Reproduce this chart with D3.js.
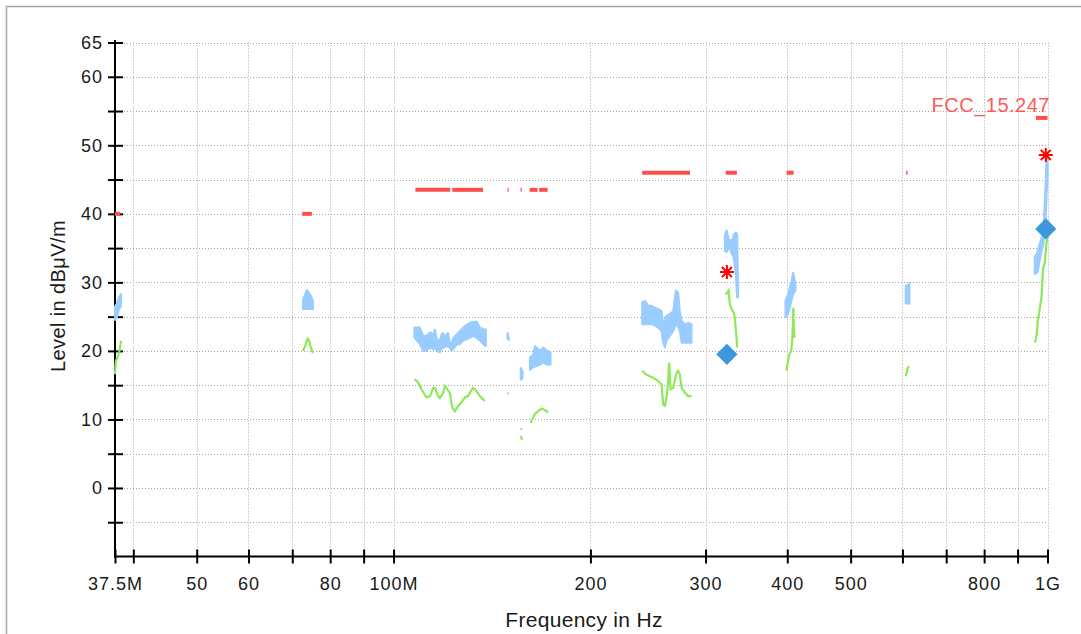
<!DOCTYPE html>
<html>
<head>
<meta charset="utf-8">
<script src="https://cdn.jsdelivr.net/npm/d3@7"></script>
<style>
    body { margin: 0; background: #fff; }
    svg text { font-family: "Liberation Sans", Arial, sans-serif; }
</style>
</head>
<body>
<div id="chart"></div>
<script>
var levelTicks = [-5, 0, 5, 10, 15, 20, 25, 30, 35, 40, 45, 50, 55, 60, 65];
var levelLabels = [0, 10, 20, 30, 40, 50, 60, 65];
var freqTicks = [40, 50, 60, 70, 80, 90, 100, 200, 300, 400, 500, 600, 700, 800, 900, 1000];
var freqLabelValues = [37.5, 50, 60, 80, 100, 200, 300, 400, 500, 800, 1000];
var freqLabelTexts = ["37.5M", "50", "60", "80", "100M", "200", "300", "400", "500", "800", "1G"];

// limit line, only drawn in the restricted bands: [from MHz, to MHz, dBuV/m]
var limitBands = [
    [37.5, 38.2, 40], [72.5, 75, 40],
    [108, 122, 43.5], [123, 137, 43.5], [149.4, 150, 43.5], [156.4, 157, 43.5], [161.5, 166, 43.5], [167, 172, 43.5],
    [240, 284, 46], [322, 335, 46], [399, 409, 46], [608, 611, 46],
    [960, 1000, 54]
];

// peak trace, [MHz, low, high]
var peak1 = [[37.5, 24.5, 26.5], [37.8, 25.0, 27.0], [38.0, 26.0, 27.8], [38.3, 26.5, 28.3]];
var peak2 = [[72.7, 26.1, 27.5], [73.7, 26.1, 28.9], [74.8, 26.1, 28.0], [75.3, 26.1, 27.2]];
var peak3 = [[107.6, 22.0, 23.4], [108.5, 21.5, 23.4], [109.7, 21.0, 23.4], [111.0, 20.0, 22.2], [112.3, 20.0, 22.2],
    [113.7, 20.5, 22.7], [115.0, 20.2, 22.4], [115.7, 20.5, 23.1], [116.4, 20.0, 21.7], [117.7, 19.8, 21.5],
    [118.4, 20.3, 22.4], [119.1, 20.5, 22.6], [119.8, 20.6, 21.9], [120.5, 20.7, 22.4], [121.2, 20.6, 22.6],
    [121.9, 20.5, 21.2], [122.7, 20.0, 21.0], [123.4, 20.3, 21.9], [124.9, 20.9, 22.4], [126.3, 21.0, 22.9],
    [127.8, 21.5, 23.4], [129.3, 21.7, 23.8], [130.8, 21.9, 24.1], [132.4, 22.2, 24.2], [134.0, 21.9, 24.3],
    [134.7, 21.7, 23.9], [135.5, 21.5, 23.4], [137.1, 21.0, 23.2], [138.4, 20.7, 23.1]];
var peak3b = [[149.4, 21.8, 22.6], [150.0, 21.6, 22.0]];
var peak3c = [[156.5, 15.8, 17.5], [157.5, 16.0, 17.0]];
var peak4 = [[161.6, 17.2, 19.0], [163.5, 17.6, 19.5], [164.5, 17.7, 20.7], [165.4, 17.8, 20.5], [167.4, 18.0, 20.0],
    [169.4, 18.3, 20.5], [171.4, 18.0, 20.1], [173.8, 18.0, 19.8]];
var peak5 = [[240.0, 23.9, 27.1], [242.3, 23.9, 27.3], [245.1, 23.9, 26.6], [248.0, 23.9, 26.6], [250.9, 23.7, 26.3],
    [253.9, 23.4, 26.1], [256.9, 22.9, 25.8], [258.4, 21.2, 23.9], [259.9, 20.5, 24.5], [261.5, 21.5, 25.1],
    [264.6, 22.2, 25.4], [267.7, 22.9, 25.8], [270.2, 23.9, 28.8], [272.4, 23.5, 28.5], [274.0, 22.9, 25.8],
    [275.7, 21.2, 24.4], [278.9, 21.2, 23.9], [282.2, 21.2, 24.1], [285.5, 21.2, 23.9]];
var peak6 = [[321.1, 34.6, 36.8], [323.0, 34.4, 37.6], [324.9, 34.8, 36.6], [326.8, 35.1, 35.9], [328.4, 34.3, 36.2],
    [329.9, 34.0, 36.1], [331.4, 33.5, 37.0], [333.8, 31.0, 37.3], [335.3, 27.8, 37.0], [336.4, 27.8, 29.5]];
var peak7 = [[397.5, 24.9, 27.3], [401.3, 25.4, 28.3], [406.0, 27.3, 30.2], [408.4, 28.3, 31.4], [411.8, 28.8, 29.7]];
var peak8 = [[607, 26.9, 29.5], [611, 26.9, 29.6], [615, 26.9, 29.9]];
var peak9 = [[956, 31.2, 33.6], [966, 31.5, 34.5], [972, 33.0, 35.5], [979, 34.5, 36.5], [985, 35.5, 37.5],
    [990, 37.0, 41.0], [994, 39.5, 45.0], [997, 43.0, 49.0], [1000, 45.0, 48.0]];

// average trace, [MHz, level]
var avg1 = [[37.5, 16.6], [37.6, 18.5], [37.9, 19.2], [38.1, 20.0], [38.3, 21.5]];
var avg2 = [[72.7, 20.0], [73.3, 20.8], [73.9, 21.8], [74.3, 21.5], [74.7, 20.5], [75.3, 19.7]];
var avg3 = [[107.6, 15.9], [109.1, 15.4], [110.3, 14.4], [112.3, 13.2], [113.7, 13.4], [115.0, 14.6], [115.7, 14.6],
    [117.0, 13.4], [117.7, 13.1], [119.1, 13.9], [119.8, 14.9], [120.5, 14.6], [121.2, 14.2], [121.9, 13.9],
    [123.0, 11.7], [124.1, 11.2], [125.6, 12.0], [127.0, 12.5], [128.5, 13.2], [130.0, 13.4], [131.6, 14.3],
    [132.4, 14.6], [134.0, 14.1], [135.5, 13.4], [137.1, 12.9], [138.0, 12.7]];
var avg3b = [[149.4, 13.9], [150.0, 13.7]];
var avg3c = [[156.6, 8.7], [157.2, 8.5]];
var avg3d = [[156.6, 7.6], [157.2, 7.0]];
var avg4 = [[162.0, 9.5], [163.5, 10.3], [164.5, 10.8], [166.4, 11.2], [168.4, 11.6], [169.4, 11.5], [171.4, 11.2], [172.4, 11.0]];
var avg5 = [[240.0, 17.1], [243.7, 16.5], [249.5, 16.1], [253.9, 15.6], [256.9, 15.1], [258.4, 12.2], [259.9, 12.0],
    [261.5, 13.2], [263.0, 15.6], [263.9, 18.3], [265.2, 14.4], [267.7, 14.6], [270.8, 16.8], [272.4, 17.1],
    [274.0, 16.6], [275.7, 14.6], [278.9, 13.9], [282.2, 13.4], [285.5, 13.4]];
var avg6 = [[322.0, 28.2], [323.6, 28.5], [325.3, 28.8], [326.8, 26.8], [329.9, 25.8], [331.4, 25.6], [332.5, 24.9],
    [334.5, 22.0], [335.3, 20.5]];
var avg7 = [[399.0, 17.1], [401.0, 18.5], [403.0, 19.5], [405.5, 20.0], [407.0, 21.5], [408.0, 23.9], [408.6, 26.3],
    [409.5, 23.0], [410.5, 21.9]];
var avg8 = [[607, 16.3], [609, 16.8], [611, 17.4], [614, 17.8]];
var avg9 = [[957, 21.2], [963, 22.5], [966, 24.4], [971, 25.6], [979, 27.8], [985, 32.2], [991, 32.9], [996, 35.6], [1000, 36.6]];

// final measurement markers
var peakMarks = [[323.4, 31.5], [994, 48.6]];
var avgMarks = [[323.4, 19.5], [994, 37.8]];

var peakTraces = [peak1, peak2, peak3, peak3b, peak3c, peak4, peak5, peak6, peak7, peak8, peak9];
var avgTraces = [avg1, avg2, avg3, avg3b, avg3c, avg3d, avg4, avg5, avg6, avg7, avg8, avg9];

(function () {
    var width = 1081, height = 634;

    var svg = d3.select("#chart")
        .append("svg")
        .attr("width", width)
        .attr("height", height);

    // window frame
    svg.append("rect")
        .attr("x", 6.5).attr("y", 6.5)
        .attr("width", width).attr("height", height)
        .attr("fill", "#fff")
        .attr("stroke", "#a8a8a8")
        .attr("stroke-width", 1.5);

    var x = d3.scaleLog().domain([37.5, 1000]).range([115, 1047.5]);
    var y = d3.scaleLinear().domain([-10, 65]).range([556.5, 42.5]);

    // dotted grid
    var grid = svg.append("g").attr("stroke", "#a4a4a4").attr("stroke-dasharray", "1,2");
    grid.selectAll(".vg").data(freqTicks).join("line")
        .attr("x1", function (d) { return Math.round(x(d)) + 0.5; })
        .attr("x2", function (d) { return Math.round(x(d)) + 0.5; })
        .attr("y1", y(65)).attr("y2", y(-10));
    grid.selectAll(".hg").data(levelTicks).join("line")
        .attr("x1", x(37.5)).attr("x2", x(1000))
        .attr("y1", function (d) { return Math.round(y(d)) + 0.5; })
        .attr("y2", function (d) { return Math.round(y(d)) + 0.5; });

    // y axis
    var yAxis = d3.axisLeft(y)
        .tickValues(levelTicks)
        .tickSize(7)
        .tickFormat(function (d) { return levelLabels.indexOf(d) >= 0 ? d : ""; });
    var gy = svg.append("g").attr("transform", "translate(115,0)").call(yAxis);
    gy.select(".domain").remove();
    gy.selectAll(".tick line").attr("x1", 8).attr("x2", -7).attr("stroke", "#000").attr("stroke-width", 2);
    gy.selectAll(".tick text").attr("x", -12).attr("fill", "#1a1a1a")
        .style("font-size", "18px").style("letter-spacing", "1px");

    // x axis
    var xAxis = d3.axisBottom(x)
        .tickValues([37.5].concat(freqTicks))
        .tickSize(7)
        .tickFormat(function (d) {
            var i = freqLabelValues.indexOf(d);
            return i >= 0 ? freqLabelTexts[i] : "";
        });
    var gx = svg.append("g").attr("transform", "translate(0," + y(-10) + ")").call(xAxis);
    gx.select(".domain").remove();
    gx.selectAll(".tick line").attr("y1", -7).attr("y2", 7).attr("stroke", "#000").attr("stroke-width", 2);
    gx.selectAll(".tick text").attr("y", 21).attr("fill", "#1a1a1a")
        .style("font-size", "18px").style("letter-spacing", "1px");

    svg.append("line")
        .attr("x1", 115).attr("x2", 115).attr("y1", 40).attr("y2", y(-10) + 1)
        .attr("stroke", "#000").attr("stroke-width", 2);
    svg.append("line")
        .attr("x1", 114).attr("x2", x(1000)).attr("y1", y(-10)).attr("y2", y(-10))
        .attr("stroke", "#000").attr("stroke-width", 2);

    // axis titles
    svg.append("text")
        .attr("transform", "translate(65," + 296 + ") rotate(-90)")
        .attr("text-anchor", "middle")
        .attr("fill", "#1a1a1a")
        .style("font-size", "20px")
        .style("letter-spacing", "0.4px")
        .text("Level in dBμV/m");
    svg.append("text")
        .attr("x", 584).attr("y", 627)
        .attr("text-anchor", "middle")
        .attr("fill", "#1a1a1a")
        .style("font-size", "21px")
        .style("letter-spacing", "0.3px")
        .text("Frequency in Hz");

    svg.append("text")
        .attr("x", 1050).attr("y", 112)
        .attr("text-anchor", "end")
        .attr("fill", "#ff5a5a")
        .style("font-size", "20px")
        .style("letter-spacing", "0.5px")
        .text("FCC_15.247");

    // limit segments
    svg.append("g").selectAll("line").data(limitBands).join("line")
        .attr("x1", function (d) { return x(d[0]); })
        .attr("x2", function (d) { return x(d[1]); })
        .attr("y1", function (d) { return y(d[2]); })
        .attr("y2", function (d) { return y(d[2]); })
        .attr("stroke", "#ff4d4d")
        .attr("stroke-width", 4);

    // peak traces
    var area = d3.area()
        .x(function (d) { return x(d[0]); })
        .y0(function (d) { return y(d[1]); })
        .y1(function (d) { return y(d[2]); });
    svg.append("g").selectAll("path").data(peakTraces).join("path")
        .attr("d", area)
        .attr("fill", "#99ccff")
        .attr("stroke", "#99ccff")
        .attr("stroke-width", 2)
        .attr("stroke-linejoin", "round");

    // average traces
    var line = d3.line()
        .x(function (d) { return x(d[0]); })
        .y(function (d) { return y(d[1]); });
    svg.append("g").selectAll("path").data(avgTraces).join("path")
        .attr("d", line)
        .attr("fill", "none")
        .attr("stroke", "#8ee85c")
        .attr("stroke-width", 2.2);

    // markers
    svg.append("g").selectAll("path").data(avgMarks).join("path")
        .attr("d", d3.symbol().type(d3.symbolSquare).size(225))
        .attr("transform", function (d) { return "translate(" + x(d[0]) + "," + y(d[1]) + ") rotate(45)"; })
        .attr("fill", "#3d97dc");

    var r = 7;
    var star = "M" + (-r) + ",0L" + r + ",0M0," + (-r) + "L0," + r +
        "M" + (-r * 0.72) + "," + (-r * 0.72) + "L" + (r * 0.72) + "," + (r * 0.72) +
        "M" + (-r * 0.72) + "," + (r * 0.72) + "L" + (r * 0.72) + "," + (-r * 0.72);
    svg.append("g").selectAll("path").data(peakMarks).join("path")
        .attr("d", star)
        .attr("transform", function (d) { return "translate(" + x(d[0]) + "," + y(d[1]) + ")"; })
        .attr("fill", "none")
        .attr("stroke", "#ff0000")
        .attr("stroke-width", 2);
})();
</script>
</body>
</html>
